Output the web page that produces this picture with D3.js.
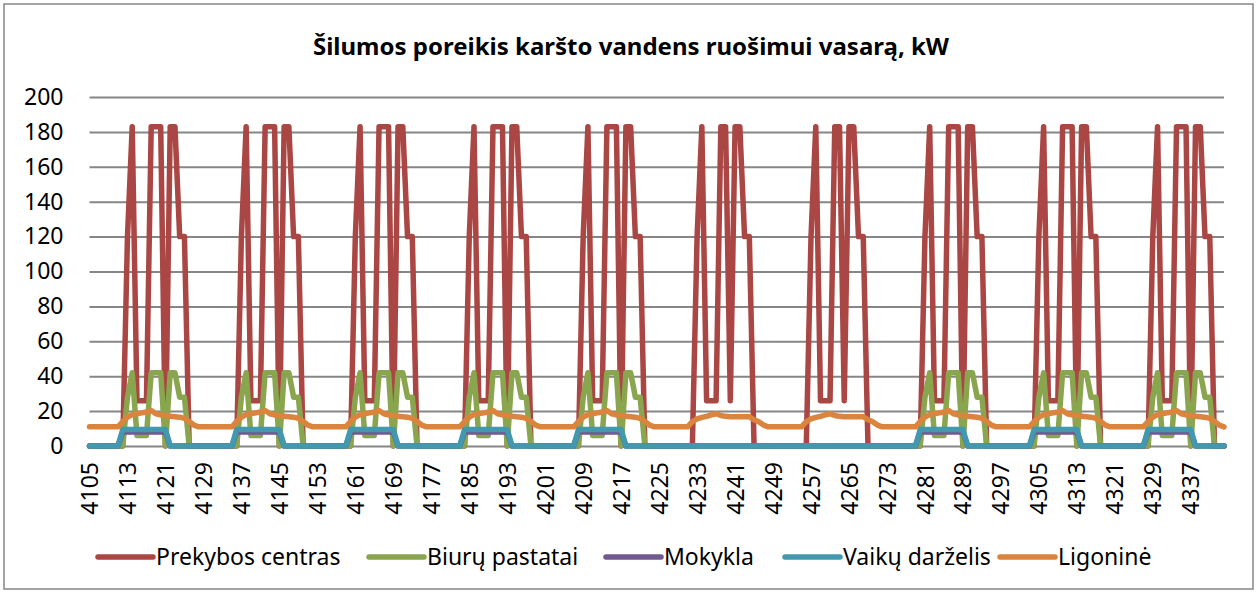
<!DOCTYPE html>
<html>
<head>
<meta charset="utf-8">
<script src="https://cdn.jsdelivr.net/npm/d3@7"></script>
<style>
  body { margin: 0; background: #fff; }
  svg text { font-family: 'Noto Sans', 'Open Sans', sans-serif; fill: #000; }
</style>
</head>
<body>
<script>
// hours 4105..4344 (10 days x 24 h)
const hours = d3.range(4105, 4345);
const xTickLabels = [4105, 4113, 4121, 4129, 4137, 4145, 4153, 4161, 4169, 4177, 4185, 4193, 4201, 4209, 4217,
  4225, 4233, 4241, 4249, 4257, 4265, 4273, 4281, 4289, 4297, 4305, 4313, 4321, 4329, 4337];
const yTicks = [0, 20, 40, 60, 80, 100, 120, 140, 160, 180, 200];

const seriesNames = ['Prekybos centras', 'Biurų pastatai', 'Mokykla', 'Vaikų darželis', 'Ligoninė'];
const seriesColors = ['#AA4643', '#89A54E', '#71588F', '#4198AF', '#DB843D'];

// one row per day
const prekybosCentras = [
  0,0,0,0,0,0,0,0,120,183,26,26,26,183,183,183,0,183,183,120,120,0,0,0,
  0,0,0,0,0,0,0,0,120,183,26,26,26,183,183,183,0,183,183,120,120,0,0,0,
  0,0,0,0,0,0,0,0,120,183,26,26,26,183,183,183,0,183,183,120,120,0,0,0,
  0,0,0,0,0,0,0,0,120,183,26,26,26,183,183,183,0,183,183,120,120,0,0,0,
  0,0,0,0,0,0,0,0,120,183,26,26,26,183,183,183,0,183,183,120,120,0,0,0,
  0,0,0,0,0,0,0,0,120,183,26,26,26,183,183,26,183,183,120,120,0,0,0,0,
  0,0,0,0,0,0,0,0,120,183,26,26,26,183,183,26,183,183,120,120,0,0,0,0,
  0,0,0,0,0,0,0,0,120,183,26,26,26,183,183,183,0,183,183,120,120,0,0,0,
  0,0,0,0,0,0,0,0,120,183,26,26,26,183,183,183,0,183,183,120,120,0,0,0,
  0,0,0,0,0,0,0,0,120,183,26,26,26,183,183,183,0,183,183,120,120,0,0,0
];
const biuruPastatai = [
  0,0,0,0,0,0,0,0,28,42,6,6,6,42,42,42,0,42,42,28,28,0,0,0,
  0,0,0,0,0,0,0,0,28,42,6,6,6,42,42,42,0,42,42,28,28,0,0,0,
  0,0,0,0,0,0,0,0,28,42,6,6,6,42,42,42,0,42,42,28,28,0,0,0,
  0,0,0,0,0,0,0,0,28,42,6,6,6,42,42,42,0,42,42,28,28,0,0,0,
  0,0,0,0,0,0,0,0,28,42,6,6,6,42,42,42,0,42,42,28,28,0,0,0,
  0,0,0,0,0,0,0,0,0,0,0,0,0,0,0,0,0,0,0,0,0,0,0,0,
  0,0,0,0,0,0,0,0,0,0,0,0,0,0,0,0,0,0,0,0,0,0,0,0,
  0,0,0,0,0,0,0,0,28,42,6,6,6,42,42,42,0,42,42,28,28,0,0,0,
  0,0,0,0,0,0,0,0,28,42,6,6,6,42,42,42,0,42,42,28,28,0,0,0,
  0,0,0,0,0,0,0,0,28,42,6,6,6,42,42,42,0,42,42,28,28,0,0,0
];
const mokykla = [
  0,0,0,0,0,0,0,8,8,8,8,8,8,8,8,8,8,0,0,0,0,0,0,0,
  0,0,0,0,0,0,0,8,8,8,8,8,8,8,8,8,8,0,0,0,0,0,0,0,
  0,0,0,0,0,0,0,8,8,8,8,8,8,8,8,8,8,0,0,0,0,0,0,0,
  0,0,0,0,0,0,0,8,8,8,8,8,8,8,8,8,8,0,0,0,0,0,0,0,
  0,0,0,0,0,0,0,8,8,8,8,8,8,8,8,8,8,0,0,0,0,0,0,0,
  0,0,0,0,0,0,0,0,0,0,0,0,0,0,0,0,0,0,0,0,0,0,0,0,
  0,0,0,0,0,0,0,0,0,0,0,0,0,0,0,0,0,0,0,0,0,0,0,0,
  0,0,0,0,0,0,0,8,8,8,8,8,8,8,8,8,8,0,0,0,0,0,0,0,
  0,0,0,0,0,0,0,8,8,8,8,8,8,8,8,8,8,0,0,0,0,0,0,0,
  0,0,0,0,0,0,0,8,8,8,8,8,8,8,8,8,8,0,0,0,0,0,0,0
];
const vaikuDarzelis = [
  0,0,0,0,0,0,0,9.5,9.5,9.5,9.5,9.5,9.5,9.5,9.5,9.5,9.5,0,0,0,0,0,0,0,
  0,0,0,0,0,0,0,9.5,9.5,9.5,9.5,9.5,9.5,9.5,9.5,9.5,9.5,0,0,0,0,0,0,0,
  0,0,0,0,0,0,0,9.5,9.5,9.5,9.5,9.5,9.5,9.5,9.5,9.5,9.5,0,0,0,0,0,0,0,
  0,0,0,0,0,0,0,9.5,9.5,9.5,9.5,9.5,9.5,9.5,9.5,9.5,9.5,0,0,0,0,0,0,0,
  0,0,0,0,0,0,0,9.5,9.5,9.5,9.5,9.5,9.5,9.5,9.5,9.5,9.5,0,0,0,0,0,0,0,
  0,0,0,0,0,0,0,0,0,0,0,0,0,0,0,0,0,0,0,0,0,0,0,0,
  0,0,0,0,0,0,0,0,0,0,0,0,0,0,0,0,0,0,0,0,0,0,0,0,
  0,0,0,0,0,0,0,9.5,9.5,9.5,9.5,9.5,9.5,9.5,9.5,9.5,9.5,0,0,0,0,0,0,0,
  0,0,0,0,0,0,0,9.5,9.5,9.5,9.5,9.5,9.5,9.5,9.5,9.5,9.5,0,0,0,0,0,0,0,
  0,0,0,0,0,0,0,9.5,9.5,9.5,9.5,9.5,9.5,9.5,9.5,9.5,9.5,0,0,0,0,0,0,0
];
const ligonine = [
  11,11,11,11,11,11,11,14,16.5,18,18.5,19,19.5,20.3,18.5,17.8,17.5,17,16.8,16.5,15.8,14,12,11,
  11,11,11,11,11,11,11,14,16.5,18,18.5,19,19.5,20.3,18.5,17.8,17.5,17,16.8,16.5,15.8,14,12,11,
  11,11,11,11,11,11,11,14,16.5,18,18.5,19,19.5,20.3,18.5,17.8,17.5,17,16.8,16.5,15.8,14,12,11,
  11,11,11,11,11,11,11,14,16.5,18,18.5,19,19.5,20.3,18.5,17.8,17.5,17,16.8,16.5,15.8,14,12,11,
  11,11,11,11,11,11,11,14,16.5,18,18.5,19,19.5,20.3,18.5,17.8,17.5,17,16.8,16.5,15.8,14,12,11,
  11,11,11,11,11,11,11,14,15.5,16.4,17,17.8,18.5,17.5,17,16.8,16.8,16.8,16.8,16.8,15,13.9,12,11,
  11,11,11,11,11,11,11,14,15.5,16.4,17,17.8,18.5,17.5,17,16.8,16.8,16.8,16.8,16.8,15,13.9,12,11,
  11,11,11,11,11,11,11,14,16.5,18,18.5,19,19.5,20.3,18.5,17.8,17.5,17,16.8,16.5,15.8,14,12,11,
  11,11,11,11,11,11,11,14,16.5,18,18.5,19,19.5,20.3,18.5,17.8,17.5,17,16.8,16.5,15.8,14,12,11,
  11,11,11,11,11,11,11,14,16.5,18,18.5,19,19.5,20.3,18.5,17.8,17.5,17,16.8,16.5,15.8,14,12,11
];
const allSeries = [prekybosCentras, biuruPastatai, mokykla, vaikuDarzelis, ligonine];

const width = 1258;
const height = 593;

const svg = d3.select('body').append('svg')
  .attr('width', width)
  .attr('height', height);

// chart border
svg.append('rect')
  .attr('x', 4).attr('y', 4)
  .attr('width', 1249).attr('height', 585)
  .attr('fill', '#fff')
  .attr('stroke', '#868686')
  .attr('stroke-width', 1.5);

// title
svg.append('text')
  .attr('x', 631).attr('y', 55)
  .attr('text-anchor', 'middle')
  .style('font-size', '24px')
  .style('font-weight', 'bold')
  .text('Šilumos poreikis karšto vandens ruošimui vasarą, kW');

const x = d3.scalePoint()
  .domain(hours)
  .range([89.5, 1224]);

const y = d3.scaleLinear()
  .domain([0, 200])
  .range([446, 97]);

// gridlines + y labels
const yAxis = svg.append('g')
  .attr('transform', 'translate(89.5,0)')
  .call(d3.axisLeft(y).tickValues(yTicks).tickSize(-(1224 - 89.5)).tickPadding(26));
yAxis.select('.domain').remove();
yAxis.selectAll('.tick line')
  .attr('stroke', '#868686')
  .attr('stroke-width', 2);
yAxis.selectAll('.tick text')
  .style('font-size', '23px')
  .attr('fill', '#000');

// x labels
const xAxis = svg.append('g')
  .attr('transform', 'translate(0,446)')
  .call(d3.axisBottom(x).tickValues(xTickLabels).tickSize(0).tickPadding(0));
xAxis.select('.domain').remove();
xAxis.selectAll('.tick text')
  .attr('transform', 'rotate(-90)')
  .attr('text-anchor', 'end')
  .attr('x', -16)
  .attr('y', 0)
  .attr('dy', '0.35em')
  .style('font-size', '23px')
  .attr('fill', '#000');

// lines
const line = d3.line()
  .x((d, i) => x(hours[i]))
  .y(d => y(d));

svg.append('g')
  .selectAll('path')
  .data(allSeries)
  .join('path')
  .attr('d', line)
  .attr('fill', 'none')
  .attr('stroke', (d, i) => seriesColors[i])
  .attr('stroke-width', 5.5)
  .attr('stroke-linejoin', 'round')
  .attr('stroke-linecap', 'round');

// legend
const legendX = [98, 369, 606, 785, 1000];
const legend = svg.append('g')
  .selectAll('g')
  .data(seriesNames)
  .join('g')
  .attr('transform', (d, i) => `translate(${legendX[i]},557)`);

legend.append('line')
  .attr('x1', 0).attr('x2', 55)
  .attr('stroke', (d, i) => seriesColors[i])
  .attr('stroke-width', 5.5)
  .attr('stroke-linecap', 'round');

legend.append('text')
  .attr('x', 58)
  .attr('dy', '0.35em')
  .style('font-size', '23px')
  .text(d => d);
</script>
</body>
</html>
